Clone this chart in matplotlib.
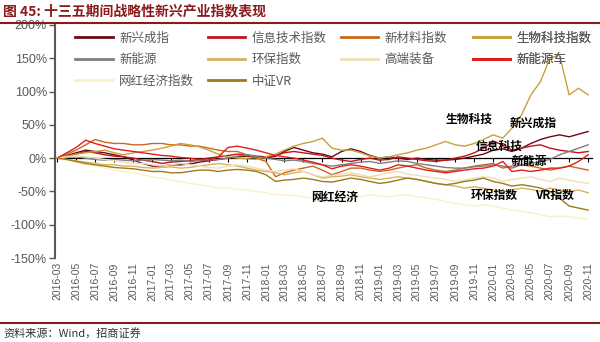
import matplotlib
matplotlib.use("Agg")
import matplotlib.pyplot as plt
import matplotlib.dates as mdates
import pandas as pd
from matplotlib.lines import Line2D
from matplotlib.ticker import FuncFormatter, FixedLocator

plt.rcParams['font.family'] = ['Noto Sans CJK SC', 'DejaVu Sans']

# monthly observation dates (2016-03 .. 2020-11)
dates = pd.date_range('2016-03-01', '2020-11-01', freq='MS')

xinxing = [0, 4, 8, 12, 10, 8, 5, 2, -3, -8,
           -12, -12, -10, -10, -9, -6, -4, -2, 0, 2,
           3, 1, 0, 3, 10, 16, 12, 8, 6, 2,
           10, 14, 10, 4, 0, 2, 0, -2, 0, -2,
           -3, -3, -2, 0, 3, 6, 12, 14, 10, 15,
           22, 28, 32, 35, 32, 36, 40]
xinxi = [0, 3, 6, 10, 8, 5, 3, 2, 0, -3,
         -5, -8, -6, -5, -4, -2, 0, 2, 4, 6,
         5, 3, 2, 4, 8, 10, 8, 6, 4, 0,
         -3, -5, -2, 0, -3, -2, 2, 0, -2, -4,
         -5, -3, 0, 3, 8, 15, 25, 20, 12, 15,
         18, 20, 15, 12, 10, 8, 10]
xincailiao = [0, 6, 12, 20, 28, 24, 22, 22, 20, 20,
              22, 22, 20, 20, 18, 18, 15, 12, 10, 10,
              5, 0, -5, -28, -22, -18, -15, -12, -18, -25,
              -20, -15, -15, -18, -20, -18, -15, -12, -10, -15,
              -18, -20, -18, -15, -12, -10, -8, -15, -12, -10,
              -12, -15, -18, -15, -12, -15, -18]
shengwu = [0, 3, 6, 8, 10, 12, 8, 5, 8, 10,
           12, 15, 18, 22, 20, 17, 12, 6, 2, 0,
           -1, -2, 2, 6, 12, 18, 22, 25, 30, 15,
           12, 12, 8, 3, 0, 2, 5, 8, 12, 15,
           20, 25, 20, 18, 22, 28, 35, 30, 45, 65,
           95, 115, 150, 155, 95, 105, 95]
xinnengyuan = [0, 1, 2, 0, -2, -3, -2, -3, -4, -3,
               -2, -3, -4, -3, -5, -4, -3, -2, 0, 3,
               5, 2, 0, -2, -4, -3, -5, -8, -10, -12,
               -10, -8, -6, -5, -8, -6, -4, -5, -8, -10,
               -12, -14, -15, -15, -13, -12, -10, -12, -15, -10,
               -8, -5, -2, 5, 10, 15, 20]
huanbao = [0, -2, -4, -6, -8, -10, -10, -12, -12, -14,
           -15, -14, -13, -15, -14, -12, -10, -8, -10, -12,
           -15, -18, -20, -22, -25, -22, -20, -25, -30, -28,
           -27, -25, -28, -30, -32, -30, -28, -30, -32, -35,
           -38, -40, -42, -45, -43, -45, -48, -50, -48, -45,
           -47, -50, -45, -48, -50, -48, -52]
gaoduan = [0, 2, 3, 2, 0, -2, -4, -6, -8, -8,
           -10, -12, -10, -8, -10, -12, -14, -15, -12, -10,
           -12, -15, -18, -20, -18, -16, -20, -25, -28, -26,
           -24, -22, -25, -28, -25, -22, -20, -24, -26, -28,
           -30, -32, -35, -33, -30, -28, -30, -35, -32, -30,
           -28, -32, -35, -30, -33, -36, -38]
xinnengyuanche = [0, 8, 16, 27, 22, 18, 14, 12, 10, 8,
                  6, 4, 3, 1, 0, -2, -3, 2, 16, 18,
                  15, 12, 8, 4, 2, 0, -3, -6, -10, -16,
                  -12, -10, -12, -15, -18, -15, -10, -12, -15, -18,
                  -20, -22, -20, -18, -16, -15, -12, -5, -20, -18,
                  -20, -18, -15, -15, -12, -5, 5]
wanghong = [0, -3, -6, -10, -12, -15, -18, -20, -22, -25,
            -28, -30, -33, -35, -38, -40, -42, -45, -45, -47,
            -48, -50, -52, -55, -55, -56, -58, -60, -62, -60,
            -58, -60, -58, -55, -57, -58, -56, -55, -58, -60,
            -62, -65, -68, -70, -72, -70, -72, -75, -78, -80,
            -82, -85, -88, -87, -88, -90, -92]
vr = [0, -2, -5, -8, -10, -12, -14, -15, -16, -18,
      -20, -20, -22, -22, -20, -18, -18, -20, -18, -17,
      -18, -20, -25, -35, -33, -32, -30, -32, -35, -36,
      -33, -30, -32, -35, -38, -36, -33, -30, -32, -35,
      -38, -40, -38, -35, -33, -30, -35, -38, -42, -40,
      -42, -45, -50, -60, -72, -75, -78]

names = ['新兴成指', '信息技术指数', '新材料指数', '生物科技指数', '新能源',
         '环保指数', '高端装备', '新能源车', '网红经济指数', '中证VR']
series = [xinxing, xinxi, xincailiao, shengwu, xinnengyuan,
          huanbao, gaoduan, xinnengyuanche, wanghong, vr]
colors = ['#6B0A12', '#C0141E', '#C8691E', '#C9A03C', '#7F7F7F',
          '#D9B25F', '#F0DDB8', '#E21D1D', '#FAF0C8', '#9D7A1C']

yticks = [-150, -100, -50, 0, 50, 100, 150, 200]
xtick_dates = pd.date_range('2016-03-01', '2020-11-01', freq='2MS')
xtick_labels = [d.strftime('%Y-%m') for d in xtick_dates]

fig = plt.figure(figsize=(6, 3.42), dpi=100)
ax = fig.add_axes([0.092, 0.2456, 0.895, 0.6814])

lines = []
for name, vals, c in zip(names, series, colors):
    ln, = ax.plot(dates, vals, color=c, lw=1.0, label=name)
    lines.append(ln)

ax.set_ylim(-150, 200)
ax.set_xlim(pd.Timestamp('2016-02-24'), pd.Timestamp('2020-11-14'))
ax.yaxis.set_major_locator(FixedLocator(yticks))
ax.yaxis.set_major_formatter(FuncFormatter(lambda v, p: f'{v:.0f}%'))
ax.set_xticks(xtick_dates)
ax.set_xticklabels(xtick_labels, rotation=90, fontsize=7.5, color='#595959',
                   family=['Liberation Sans', 'DejaVu Sans'])
for t in ax.get_yticklabels():
    t.set_fontsize(9)
    t.set_color('#595959')
    t.set_family(['Liberation Sans', 'DejaVu Sans'])
ax.tick_params(axis='x', length=0, pad=3)
ax.tick_params(axis='y', length=4, width=1, color='#595959', direction='out', pad=2)
for s in ['top', 'right', 'bottom']:
    ax.spines[s].set_visible(False)
ax.spines['left'].set_color('#595959')
ax.spines['left'].set_linewidth(1.5)

# zero axis with ticks
sec = ax.secondary_xaxis(150 / 350)
sec.set_xticks(xtick_dates)
sec.set_xticklabels([])
sec.tick_params(axis='x', length=3, width=0.8, color='black', direction='out')
sec.spines['bottom'].set_color('black')
sec.spines['bottom'].set_linewidth(0.9)

# legends arranged in 4 columns (row-wise order as in the source)
cols = [[0, 4, 8], [1, 5, 9], [2, 6], [3, 7]]
col_x = [0.028, 0.275, 0.522, 0.768]
for cx, idx in zip(col_x, cols):
    leg = ax.legend([lines[i] for i in idx], [names[i] for i in idx],
                    loc='upper left', bbox_to_anchor=(cx, 0.992), frameon=False,
                    fontsize=9, handlelength=3.0, handletextpad=0.5,
                    labelspacing=0.68, borderaxespad=0)
    for h in leg.get_lines():
        h.set_linewidth(2.0)
    for t in leg.get_texts():
        t.set_color('#595959')
    ax.add_artist(leg)

# in-chart labels
ann = [('生物科技', '2019-10-15', 58), ('新兴成指', '2020-05-10', 52),
       ('信息科技', '2020-01-20', 18), ('新能源', '2020-04-25', -5),
       ('环保指数', '2020-01-05', -56), ('VR指数', '2020-07-15', -56),
       ('网红经济', '2018-08-10', -59)]
for txt, d, v in ann:
    ax.text(pd.Timestamp(d), v, txt, fontsize=8.5, color='black', ha='center',
            va='center', fontweight='bold')

# title and frame lines
fig.text(0.005, 0.968, '图 45: 十三五期间战略性新兴产业指数表现', fontsize=10,
         fontweight='bold', color='#8B1A1A', va='center', ha='left')
fig.add_artist(Line2D([0, 1], [0.934, 0.934], transform=fig.transFigure,
                      color='#8B1A1A', lw=1.5))
fig.add_artist(Line2D([0, 1], [0.057, 0.057], transform=fig.transFigure,
                      color='#8B1A1A', lw=1.5))
fig.text(0.005, 0.024, '资料来源：Wind，招商证券', fontsize=8, color='#333333',
         va='center', ha='left')

fig.savefig('out.png', dpi=100)
